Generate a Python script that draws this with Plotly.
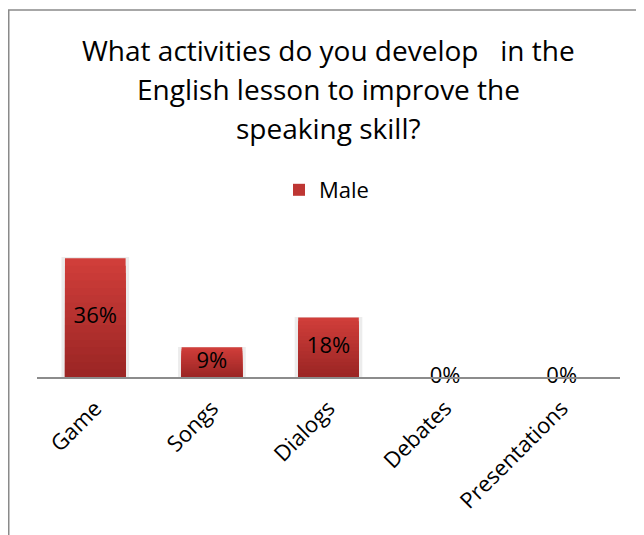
import plotly.graph_objects as go

# survey data
categories = ['Game', 'Songs', 'Dialogs', 'Debates', 'Presentations']
male_share = [0.36, 0.09, 0.18, 0.0, 0.0]
title_lines = ['What activities do you develop   in the',
               'English lesson to improve the',
               'speaking skill?']

FONT = 'Open Sans'
top_rgb = (208, 62, 58)
bot_rgb = (156, 38, 37)
n_slices = 16

# the page body has an 8px margin, so figure px = window px - 8
PLOT_L, PLOT_R = 29, 612
PLOT_TOP, PLOT_BOT = 237, 369
PLOT_W = PLOT_R - PLOT_L
PLOT_H = PLOT_BOT - PLOT_TOP


def py(pix):
    # figure pixel row -> paper y
    return 1 + (PLOT_TOP - pix) / PLOT_H


def px(pix):
    return (pix - PLOT_L) / PLOT_W


fig = go.Figure()

# soft shadow behind the bars
fig.add_trace(go.Bar(
    x=categories, y=[v * 1.01 for v in male_share], width=0.58,
    marker=dict(color='#ececec', line=dict(width=0)),
    showlegend=False, hoverinfo='skip',
))

# fake the Excel gradient: full bar in top colour, then shorter & darker ones over it
for k in range(n_slices):
    f = 1 - k / (n_slices - 1)
    r, g, b = [int(bot_rgb[i] + (top_rgb[i] - bot_rgb[i]) * f) for i in range(3)]
    fig.add_trace(go.Bar(
        x=categories,
        y=[v * (n_slices - k) / n_slices for v in male_share],
        marker=dict(color=f'rgb({r},{g},{b})', line=dict(width=0)),
        width=0.52,
        name='Male',
        showlegend=(k == n_slices // 3),
        hoverinfo='skip',
    ))

# data labels centred on each bar (0% ones sit on the axis line)
fig.add_trace(go.Scatter(
    x=categories,
    y=[v / 2 for v in male_share],
    mode='text',
    text=[f'{v:.0%}' for v in male_share],
    textfont=dict(family=FONT, size=22, color='black'),
    cliponaxis=False,
    showlegend=False,
    hoverinfo='skip',
))

for i, (line, ypix) in enumerate(zip(title_lines, [42, 80.5, 120])):
    fig.add_annotation(text=line, xref='paper', yref='paper',
                       x=px(320), y=py(ypix), yanchor='middle',
                       showarrow=False, font=dict(family=FONT, size=28, color='black'))

# chart area border
fig.add_shape(type='rect', xref='paper', yref='paper',
              x0=px(0.75), x1=1.2, y0=-2, y1=py(2),
              line=dict(color='#8a8a8a', width=1.5))

fig.update_layout(
    width=644, height=535,
    margin=dict(l=PLOT_L, r=644 - PLOT_R, t=PLOT_TOP, b=535 - PLOT_BOT),
    paper_bgcolor='white', plot_bgcolor='white',
    barmode='overlay',
    font=dict(family=FONT, size=22, color='black'),
    legend=dict(orientation='h', x=px(271), xanchor='left', y=py(182),
                yanchor='middle', font=dict(size=22), itemwidth=30),
    xaxis=dict(showline=True, linecolor='#8c8c8c', linewidth=1.5, ticks='',
               tickangle=-45, tickfont=dict(size=22), showgrid=False, zeroline=False,
               automargin=False, ticklabelstandoff=8),
    yaxis=dict(range=[0, 0.4], visible=False, showgrid=False, zeroline=False,
               automargin=False),
)

fig.write_html('out.html')
